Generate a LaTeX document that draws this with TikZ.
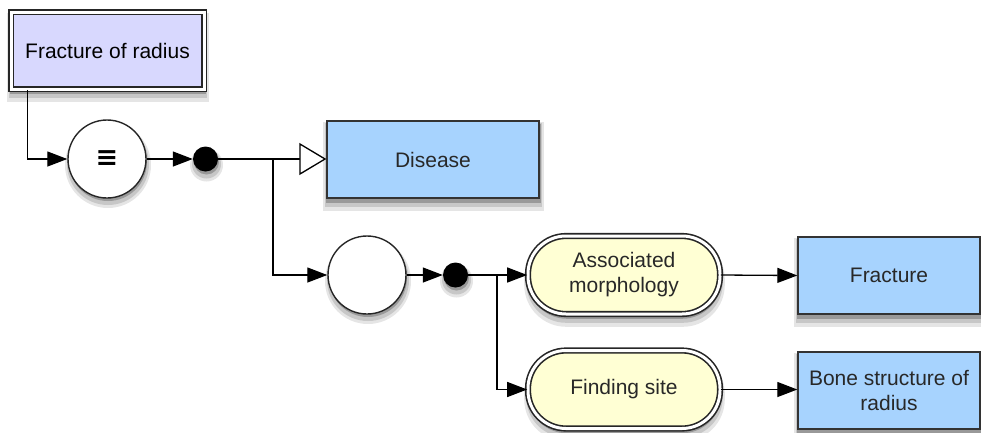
\documentclass[tikz,border=0pt]{standalone}
\usepackage{fontspec}
\setmainfont{Liberation Sans}
\newfontfamily\symfont{DejaVu Sans}
\usetikzlibrary{arrows.meta,backgrounds}
\definecolor{lavender}{RGB}{216,216,254}
\definecolor{skyblue}{RGB}{167,211,254}
\definecolor{cream}{RGB}{255,255,212}
\definecolor{inkgray}{RGB}{40,40,40}
\begin{document}
\begin{tikzpicture}[x=1pt,y=-1pt,
  every node/.style={font=\fontsize{21}{25}\selectfont,text=inkgray},
  dbl/.style={draw=black!85,double=white,double distance=3pt,line width=1.6pt},
  concept/.style={rectangle,draw=black!80,line width=1.4pt,fill=skyblue,minimum width=#1,minimum height=77pt,align=center},
  defined/.style={rectangle,dbl,fill=lavender,minimum width=193pt,minimum height=77pt},
  role/.style={rectangle,rounded corners=38pt,dbl,fill=cream,minimum width=192pt,minimum height=78pt,align=center},
  conj/.style={circle,draw=black!85,line width=1.4pt,fill=white,minimum size=78pt,inner sep=0pt},
  grp/.style={circle,fill=black,minimum size=25pt,inner sep=0pt},
  arr/.style={line width=1.3pt,-{Triangle[length=20pt,width=15pt]}},
  isa/.style={line width=1.3pt,-{Triangle[open,length=27pt,width=32pt,fill=white]}}]
\useasboundingbox (0,0) rectangle (981,432);
\node[defined] (frac) at (107.5,50.5) {\textcolor{black}{Fracture of radius}};
\node[conj] (eq) at (107,159) {\symfont\bfseries\fontsize{27}{27}\selectfont\textcolor{black}{≡}};
\node[grp] (dot1) at (205.5,159) {};
\node[concept=212pt] (disease) at (433,159.5) {Disease};
\node[conj] (and) at (367,275) {};
\node[grp] (dot2) at (455.5,275) {};
\node[role] (assoc) at (624,275) {Associated\\morphology};
\node[role] (site) at (624,389.5) {Finding site};
\node[concept=182pt] (fracture) at (889,275.5) {Fracture};
\node[concept=182pt] (bone) at (889,390.5) {Bone structure of\\radius};
\coordinate (b1) at (273,159);
\coordinate (b2) at (497,275);
\draw[arr] ([xshift=17.5pt]frac.south west) |- (eq.west);
\draw[arr] (eq.east) -- (dot1.west);
\draw[isa] (dot1.east) -- (dot1.east -| disease.west);
\draw[arr] (b1) |- (and.west);
\draw[arr] (and.east) -- (dot2.west);
\draw[arr] (dot2.east) -- (assoc.west);
\draw[arr] (b2) |- (site.west);
\draw[arr] (assoc.east) -- (fracture.west);
\draw[arr] (site.east) -- (site.east -| bone.west);
\begin{scope}[on background layer]
\foreach \n in {frac,disease,fracture,bone} {
  \fill[black!10] ([shift={(-3,2)}]\n.north west) rectangle ([shift={(4,12)}]\n.south east);
  \fill[black!22] ([shift={(-1,3)}]\n.north west) rectangle ([shift={(2,8)}]\n.south east);
  \fill[black!40] ([shift={(0,4)}]\n.north west) rectangle ([shift={(1,4)}]\n.south east);
}
\foreach \n in {assoc,site} {
  \fill[black!10,rounded corners=42pt] ([shift={(-3,2)}]\n.north west) rectangle ([shift={(4,12)}]\n.south east);
  \fill[black!22,rounded corners=40pt] ([shift={(-1,3)}]\n.north west) rectangle ([shift={(2,8)}]\n.south east);
  \fill[black!40,rounded corners=40pt] ([shift={(0,4)}]\n.north west) rectangle ([shift={(1,4)}]\n.south east);
}
\foreach \n/\r in {eq/39,and/39,dot1/12.5,dot2/12.5} {
  \fill[black!10] ([shift={(1,6)}]\n.center) circle (\r+4);
  \fill[black!22] ([shift={(1,5)}]\n.center) circle (\r+2);
  \fill[black!40] ([shift={(1,3)}]\n.center) circle (\r);
}
\end{scope}
\end{tikzpicture}
\end{document}
